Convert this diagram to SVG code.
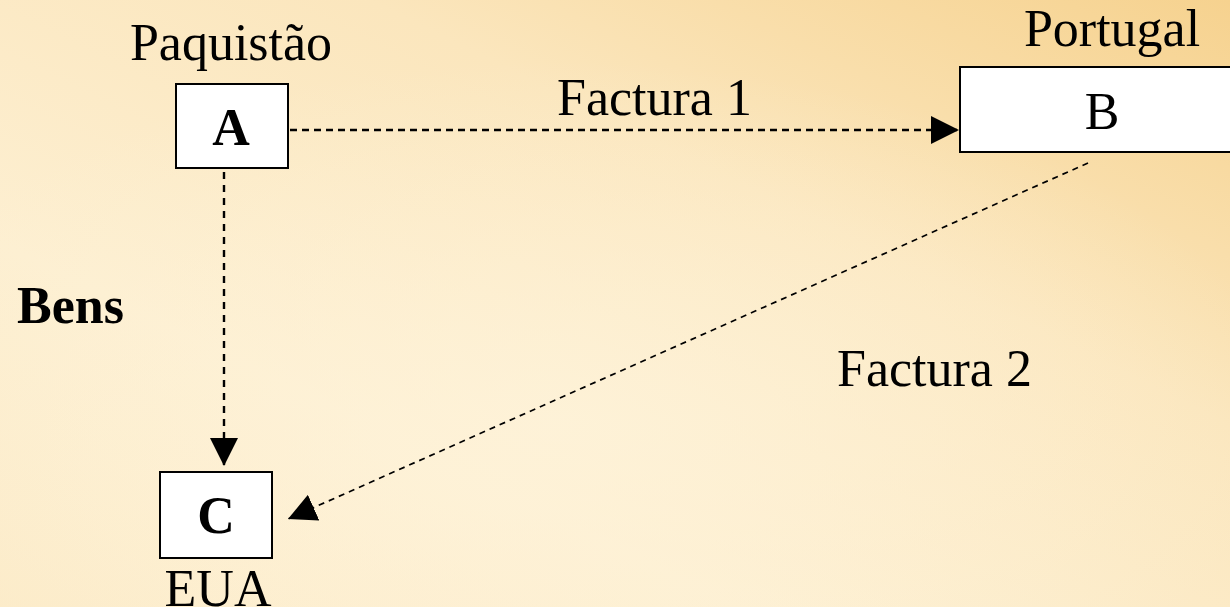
<svg xmlns="http://www.w3.org/2000/svg" width="1230" height="607" viewBox="0 0 1230 607">
<defs>
<linearGradient id="bg" x1="1" y1="0" x2="0" y2="1">
<stop offset="0" stop-color="#f6d28f"/>
<stop offset="0.35" stop-color="#fbe6bd"/>
<stop offset="0.7" stop-color="#fdefd1"/>
<stop offset="1" stop-color="#fcebc8"/>
</linearGradient>
<radialGradient id="glow" cx="0.45" cy="0.7" r="0.6">
<stop offset="0" stop-color="#fef3da" stop-opacity="0.8"/>
<stop offset="1" stop-color="#fef3da" stop-opacity="0"/>
</radialGradient>
<marker id="arr" markerUnits="userSpaceOnUse" markerWidth="28" markerHeight="28" viewBox="0 0 26 26" refX="26" refY="13" orient="auto">
<path d="M0,0 L26,13 L0,26 Z" fill="#000"/>
</marker>
<style>
.box{fill:#fff;stroke:#000;stroke-width:2}
.t{font-family:"Liberation Serif","Times New Roman",serif;font-size:52px;fill:#000}
.b{font-weight:bold}
.c{stroke:#000;fill:none}
</style>
</defs>
<rect width="1230" height="607" fill="url(#bg)"/>
<rect width="1230" height="607" fill="url(#glow)"/>
<g id="connectors">
<line class="c" x1="290" y1="130" x2="959" y2="130" stroke-width="2.4" stroke-dasharray="7,5" marker-end="url(#arr)"/>
<line class="c" x1="224" y1="172" x2="224" y2="466" stroke-width="2.4" stroke-dasharray="7,6" marker-end="url(#arr)"/>
<line class="c" x1="1088" y1="163" x2="288" y2="519" stroke-width="1.7" stroke-dasharray="6,5" marker-end="url(#arr)"/>
</g>
<g id="label-factura1"><text class="t" x="557" y="115">Factura 1</text></g>
<g id="label-factura2"><text class="t" x="837" y="386">Factura 2</text></g>
<g id="label-bens"><text class="t b" x="17" y="323">Bens</text></g>
<g id="node-A">
<rect class="box" x="176" y="84" width="112" height="84"/>
<text class="t b" x="231" y="145" text-anchor="middle">A</text>
<text class="t" x="231" y="60" text-anchor="middle">Paquistão</text>
</g>
<g id="node-B">
<rect class="box" x="960" y="67" width="290" height="85"/>
<text class="t" x="1102" y="129" text-anchor="middle">B</text>
<text class="t" x="1112" y="46" text-anchor="middle">Portugal</text>
</g>
<g id="node-C">
<rect class="box" x="160" y="472" width="112" height="86"/>
<text class="t b" x="216" y="533" text-anchor="middle">C</text>
<text class="t" x="218" y="606" text-anchor="middle">EUA</text>
</g>
</svg>
